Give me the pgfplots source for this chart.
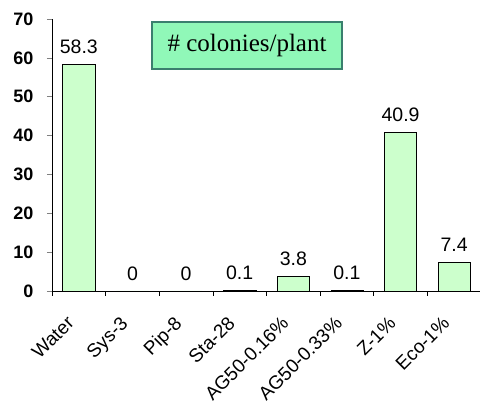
\documentclass[border=0pt]{standalone}
\usepackage{fontspec}
\setmainfont{Liberation Sans}
\newfontfamily\seriffont{Liberation Serif}
\usepackage{pgfplots}
\pgfplotsset{compat=1.18}
\definecolor{barfill}{HTML}{CCFFCC}
\definecolor{boxfill}{HTML}{90F8B8}
\definecolor{boxedge}{HTML}{3A7F6E}
\begin{document}
\begin{tikzpicture}[x=1pt,y=1pt]
\useasboundingbox (0,0) rectangle (480,401);
\begin{axis}[
  at={(52pt,110pt)}, anchor=south west,
  scale only axis, width=429pt, height=272pt,
  xmin=-0.5, xmax=7.5, ymin=0, ymax=70,
  axis lines*=left,
  axis line style={line width=0.6pt},
  tick align=outside,
  major tick length=5pt, minor tick length=5pt,
  /pgf/number format/assume math mode=true,
  ytick={0,10,...,70},
  yticklabel style={font=\bfseries\fontsize{18}{18}\selectfont, xshift=-10pt},
  xtick={0,...,7},
  xticklabels={Water,Sys-3,Pip-8,Sta-28,AG50-0.16\%,AG50-0.33\%,Z-1\%,Eco-1\%},
  xticklabel style={xshift=-13pt, yshift=-19pt, rotate=45, anchor=north east, font=\fontsize{19}{19}\selectfont, inner sep=0pt},
  xtick style={draw=none},
  minor xtick={-0.5,0.5,...,7.5},
  minor x tick style={draw=black, line width=0.6pt},
  ytick style={line width=0.6pt},
  ybar, bar width=0.6,
  nodes near coords,
  every node near coord/.append style={font=\fontsize{19.5}{19.5}\selectfont, yshift=7pt},
  clip=false,
]
\addplot[fill=barfill, draw=black, line width=0.5pt] coordinates {
  (0,58.3) (1,0) (2,0) (3,0.1) (4,3.8) (5,0.1) (6,40.9) (7,7.4)
};
\end{axis}
\node[draw=boxedge, fill=boxfill, line width=1.5pt, minimum width=190pt, minimum height=47pt,
      font=\seriffont\fontsize{25}{25}\selectfont] at (247,355.3) {\# colonies/plant};
\end{tikzpicture}
\end{document}
